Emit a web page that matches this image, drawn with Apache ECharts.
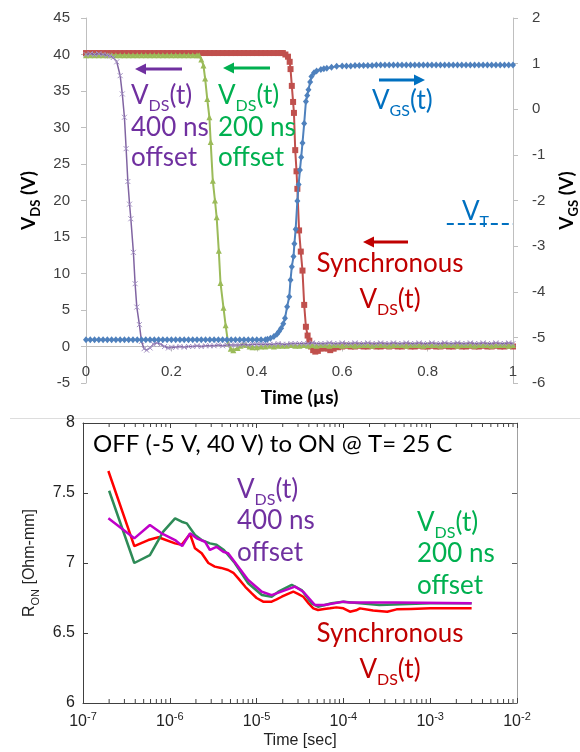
<!DOCTYPE html>
<html><head><meta charset="utf-8">
<script src="https://cdn.jsdelivr.net/npm/echarts@6/dist/echarts.min.js"></script>
<style>html,body{margin:0;padding:0;background:#fff}#c{width:580px;height:752px}</style>
</head><body><div id="c"></div><script>
// ---------- Top panel data: time (µs), V_DS (V) / V_GS (V) ----------
const vdsSync = [[0,40.2],[0.01,40.2],[0.02,40.2],[0.03,40.2],[0.04,40.2],[0.05,40.2],[0.06,40.2],[0.07,40.2],[0.08,40.2],[0.09,40.2],[0.10,40.2],[0.11,40.2],[0.12,40.2],[0.13,40.2],[0.14,40.2],[0.15,40.2],[0.16,40.2],[0.17,40.2],[0.18,40.2],[0.19,40.2],[0.20,40.2],[0.21,40.2],[0.22,40.2],[0.23,40.2],[0.24,40.2],[0.25,40.2],[0.26,40.2],[0.27,40.2],[0.28,40.2],[0.29,40.2],[0.30,40.2],[0.31,40.2],[0.32,40.2],[0.33,40.2],[0.34,40.2],[0.35,40.2],[0.36,40.2],[0.37,40.2],[0.38,40.2],[0.39,40.2],[0.40,40.2],[0.41,40.2],[0.42,40.2],[0.43,40.2],[0.44,40.2],[0.45,40.2],[0.456,40.2],[0.461,40.2],[0.467,40.0],[0.473,39.7],[0.477,39.0],[0.479,38.0],[0.482,35.7],[0.485,33.5],[0.487,32.0],[0.490,26.9],[0.493,24.0],[0.495,21.6],[0.499,15.9],[0.503,13.0],[0.507,10.4],[0.511,5.7],[0.515,2.7],[0.519,1.5],[0.523,0.8],[0.527,0.0],[0.532,-0.5],[0.537,-0.7],[0.543,-0.6],[0.55,-0.3],[0.557,-0.2],[0.565,-0.3],[0.572,-0.5],[0.58,-0.3],[0.59,-0.1],[0.60,0.0],[0.61,0.1],[0.62,0.0],[0.63,0.0],[0.64,0.1],[0.65,0.0],[0.66,0.0],[0.67,0.1],[0.68,0.0],[0.69,0.0],[0.70,0.1],[0.71,0.0],[0.72,0.1],[0.73,0.0],[0.74,0.0],[0.75,0.1],[0.76,0.0],[0.77,0.0],[0.78,0.1],[0.79,0.0],[0.80,0.0],[0.81,0.1],[0.82,0.0],[0.83,0.0],[0.84,0.1],[0.85,0.0],[0.86,0.0],[0.87,0.1],[0.88,0.0],[0.89,0.0],[0.90,0.1],[0.91,0.0],[0.92,0.0],[0.93,0.1],[0.94,0.0],[0.95,0.0],[0.96,0.1],[0.97,0.0],[0.98,0.0],[0.99,0.1],[1.00,0.0]];
const vds200 = [[0,39.9],[0.01,39.9],[0.02,39.9],[0.03,39.9],[0.04,39.9],[0.05,39.9],[0.06,39.9],[0.07,39.9],[0.08,39.9],[0.09,39.9],[0.10,39.9],[0.11,39.9],[0.12,39.9],[0.13,39.9],[0.14,39.9],[0.15,39.9],[0.16,39.9],[0.17,39.9],[0.18,39.9],[0.19,39.9],[0.20,39.9],[0.21,39.9],[0.22,39.9],[0.23,39.9],[0.24,39.9],[0.25,39.9],[0.26,39.9],[0.265,39.9],[0.270,39.3],[0.275,38.5],[0.279,36.7],[0.284,33.9],[0.289,31.4],[0.292,28.0],[0.297,22.7],[0.302,20.0],[0.306,17.7],[0.311,13.1],[0.315,8.7],[0.322,5.3],[0.327,2.9],[0.333,0.4],[0.339,-0.3],[0.345,-0.5],[0.355,-0.2],[0.362,0.1],[0.368,0.3],[0.375,0.2],[0.383,0.0],[0.39,-0.1],[0.40,-0.1],[0.41,0.0],[0.42,0.0],[0.43,0.1],[0.44,0.0],[0.45,0.1],[0.46,0.1],[0.47,0.1],[0.48,0.2],[0.49,0.1],[0.50,0.1],[0.51,0.2],[0.52,0.1],[0.53,0.2],[0.54,0.1],[0.55,0.2],[0.56,0.2],[0.57,0.1],[0.58,0.2],[0.59,0.2],[0.60,0.1],[0.61,0.2],[0.62,0.2],[0.63,0.1],[0.64,0.2],[0.65,0.2],[0.66,0.2],[0.67,0.1],[0.68,0.2],[0.69,0.2],[0.70,0.2],[0.71,0.1],[0.72,0.2],[0.73,0.2],[0.74,0.2],[0.75,0.1],[0.76,0.2],[0.77,0.2],[0.78,0.2],[0.79,0.1],[0.80,0.2],[0.81,0.2],[0.82,0.2],[0.83,0.1],[0.84,0.2],[0.85,0.2],[0.86,0.2],[0.87,0.1],[0.88,0.2],[0.89,0.2],[0.90,0.2],[0.91,0.1],[0.92,0.2],[0.93,0.2],[0.94,0.2],[0.95,0.1],[0.96,0.2],[0.97,0.2],[0.98,0.2],[0.99,0.1],[1.00,0.2]];
const vds400 = [[0,40.0],[0.01,40.1],[0.02,40.0],[0.03,40.1],[0.04,40.0],[0.05,39.9],[0.056,39.8],[0.064,39.6],[0.072,39.0],[0.080,37.1],[0.085,34.6],[0.090,31.4],[0.094,27.1],[0.098,22.6],[0.102,19.5],[0.105,17.5],[0.111,12.9],[0.115,8.6],[0.119,5.4],[0.125,3.0],[0.130,0.7],[0.136,-0.3],[0.142,-0.5],[0.150,-0.2],[0.158,0.3],[0.166,0.5],[0.175,0.3],[0.184,0.0],[0.193,-0.2],[0.20,-0.1],[0.21,-0.1],[0.22,0.0],[0.23,-0.1],[0.24,0.0],[0.25,0.0],[0.26,0.1],[0.27,0.0],[0.28,0.1],[0.29,0.1],[0.30,0.1],[0.31,0.2],[0.32,0.1],[0.33,0.2],[0.34,0.2],[0.35,0.2],[0.36,0.2],[0.37,0.3],[0.38,0.2],[0.39,0.3],[0.40,0.3],[0.41,0.3],[0.42,0.3],[0.43,0.3],[0.44,0.3],[0.45,0.4],[0.46,0.3],[0.47,0.3],[0.48,0.4],[0.49,0.4],[0.50,0.4],[0.51,0.4],[0.52,0.4],[0.53,0.5],[0.54,0.4],[0.55,0.4],[0.56,0.4],[0.57,0.5],[0.58,0.4],[0.59,0.4],[0.60,0.5],[0.61,0.4],[0.62,0.4],[0.63,0.5],[0.64,0.4],[0.65,0.4],[0.66,0.5],[0.67,0.4],[0.68,0.4],[0.69,0.5],[0.70,0.4],[0.71,0.4],[0.72,0.5],[0.73,0.4],[0.74,0.4],[0.75,0.5],[0.76,0.4],[0.77,0.4],[0.78,0.5],[0.79,0.4],[0.80,0.4],[0.81,0.5],[0.82,0.4],[0.83,0.4],[0.84,0.5],[0.85,0.4],[0.86,0.4],[0.87,0.5],[0.88,0.4],[0.89,0.4],[0.90,0.5],[0.91,0.4],[0.92,0.4],[0.93,0.5],[0.94,0.4],[0.95,0.4],[0.96,0.5],[0.97,0.4],[0.98,0.4],[0.99,0.5],[1.00,0.4]];
const vgs = [[0,-5.05],[0.01,-5.05],[0.02,-5.05],[0.03,-5.05],[0.04,-5.05],[0.05,-5.05],[0.06,-5.05],[0.07,-5.05],[0.08,-5.05],[0.09,-5.05],[0.10,-5.05],[0.11,-5.05],[0.12,-5.05],[0.13,-5.05],[0.14,-5.05],[0.15,-5.05],[0.16,-5.05],[0.17,-5.05],[0.18,-5.05],[0.19,-5.05],[0.20,-5.05],[0.21,-5.05],[0.22,-5.05],[0.23,-5.05],[0.24,-5.05],[0.25,-5.05],[0.26,-5.05],[0.27,-5.05],[0.28,-5.05],[0.29,-5.05],[0.30,-5.05],[0.31,-5.05],[0.32,-5.05],[0.33,-5.05],[0.34,-5.05],[0.35,-5.05],[0.36,-5.05],[0.37,-5.05],[0.38,-5.05],[0.39,-5.05],[0.40,-5.05],[0.41,-5.05],[0.42,-5.05],[0.425,-5.04],[0.432,-5.02],[0.44,-4.98],[0.447,-4.93],[0.452,-4.87],[0.457,-4.80],[0.462,-4.70],[0.466,-4.58],[0.471,-4.33],[0.476,-4.11],[0.479,-3.74],[0.482,-3.45],[0.486,-3.23],[0.488,-2.95],[0.491,-2.63],[0.495,-2.01],[0.498,-1.65],[0.501,-1.33],[0.504,-1.05],[0.507,-0.74],[0.511,-0.31],[0.515,0.17],[0.518,0.30],[0.521,0.43],[0.525,0.60],[0.528,0.72],[0.534,0.80],[0.540,0.84],[0.55,0.87],[0.557,0.89],[0.564,0.90],[0.575,0.92],[0.587,0.94],[0.60,0.95],[0.61,0.95],[0.62,0.95],[0.63,0.96],[0.64,0.96],[0.65,0.96],[0.66,0.96],[0.67,0.96],[0.68,0.97],[0.69,0.97],[0.70,0.97],[0.71,0.97],[0.72,0.97],[0.73,0.97],[0.74,0.97],[0.75,0.97],[0.76,0.97],[0.77,0.97],[0.78,0.97],[0.79,0.97],[0.80,0.97],[0.81,0.97],[0.82,0.97],[0.83,0.97],[0.84,0.97],[0.85,0.97],[0.86,0.97],[0.87,0.97],[0.88,0.97],[0.89,0.97],[0.90,0.97],[0.91,0.97],[0.92,0.97],[0.93,0.97],[0.94,0.97],[0.95,0.97],[0.96,0.97],[0.97,0.97],[0.98,0.97],[0.99,0.97],[1.00,0.97]];
const vT = -2.5;            // threshold voltage (right axis)
const vTStart = 0.845;      // start of V_T dashed marker (µs)

// ---------- Bottom panel data: time (s), R_ON (Ohm-mm) ----------
const ronSync = [[1.96e-7,7.657],[3.9e-7,7.121],[5.65e-7,7.164],[7.4e-7,7.184],[1.15e-6,7.14],[1.37e-6,7.13],[1.71e-6,7.207],[1.95e-6,7.105],[2.33e-6,7.07],[2.78e-6,7.0],[3.3e-6,6.974],[3.9e-6,6.965],[4.7e-6,6.95],[5.4e-6,6.93],[6.15e-6,6.89],[7.4e-6,6.83],[8.8e-6,6.783],[1.0e-5,6.75],[1.19e-5,6.724],[1.49e-5,6.724],[1.7e-5,6.74],[1.95e-5,6.759],[2.3e-5,6.78],[2.65e-5,6.795],[3.0e-5,6.78],[3.45e-5,6.759],[4.0e-5,6.71],[4.5e-5,6.676],[5.1e-5,6.664],[6.0e-5,6.672],[7.0e-5,6.676],[8.3e-5,6.683],[1.0e-4,6.676],[1.19e-4,6.652],[1.4e-4,6.662],[1.55e-4,6.676],[2.2e-4,6.66],[3.2e-4,6.652],[4.1e-4,6.669],[6e-4,6.672],[1e-3,6.676],[3e-3,6.676]];
const ron200 = [[2e-7,7.516],[3.9e-7,7.0],[5.9e-7,7.057],[8.4e-7,7.224],[1.15e-6,7.319],[1.37e-6,7.295],[1.57e-6,7.283],[1.95e-6,7.2],[2.33e-6,7.164],[2.9e-6,7.14],[3.45e-6,7.13],[4.2e-6,7.093],[5.6e-6,7.0],[8e-6,6.855],[1.15e-5,6.771],[1.49e-5,6.759],[1.78e-5,6.795],[2.54e-5,6.843],[3.3e-5,6.807],[4.3e-5,6.712],[5.1e-5,6.688],[7.3e-5,6.712],[1e-4,6.724],[2.6e-4,6.7],[1e-3,6.712],[3e-3,6.712]];
const ron400 = [[1.96e-7,7.319],[3.9e-7,7.176],[5.9e-7,7.271],[8.05e-7,7.212],[1.15e-6,7.164],[1.39e-6,7.121],[1.71e-6,7.212],[2.04e-6,7.176],[2.54e-6,7.152],[2.9e-6,7.093],[3.45e-6,7.116],[4.13e-6,7.08],[4.7e-6,7.07],[8e-6,6.879],[1.15e-5,6.795],[1.49e-5,6.771],[2.77e-5,6.831],[3.45e-5,6.795],[4.7e-5,6.7],[6.1e-5,6.7],[1e-4,6.724],[1.19e-4,6.717],[4.1e-4,6.717],[3e-3,6.712]];
const logDecades = [1e-7,1e-6,1e-5,1e-4,1e-3];
const logMults = [2,3,4,5,6,7,8,9];

const ANN = 'Lato';
const minorTicks = [];
logDecades.forEach(d => logMults.forEach(m => minorTicks.push([d*m, 6])));

function txt(x, y, str, color, size, align) {
  const sub = Math.round(size*0.62);
  return {type:'text', x:x, y:y, silent:true, z:100, style:{
    text:str, align:align||'left', verticalAlign:'middle', fill:color, fontSize:size, fontFamily:ANN,
    rich:{
      b:{fontSize:size, fontFamily:ANN, fill:color, verticalAlign:'bottom', padding:[0,0,Math.round(size*0.2),0]},
      s:{fontSize:sub, fontFamily:ANN, fill:color, verticalAlign:'bottom'}
    }}};
}
function arrow(x1, x2, y, color) {
  const dir = x2 > x1 ? 1 : -1, hl = 11, hw = 5.5, bx = x2 - dir*hl;
  return {type:'group', silent:true, z:100, children:[
    {type:'line', shape:{x1:x1,y1:y,x2:bx,y2:y}, style:{stroke:color,lineWidth:3}},
    {type:'polygon', shape:{points:[[x2,y],[bx,y-hw],[bx,y+hw]]}, style:{fill:color}}
  ]};
}
const PUR='#7030A0', GRN='#00B050', BLU='#0070C0', RED='#C00000';

const topLbl = {color:'#404040', fontSize:15, fontFamily:'Liberation Sans'};
const nameRichTop = {
  b:{fontSize:19, fontWeight:'bold', fontFamily:ANN, color:'#000', verticalAlign:'bottom', padding:[0,0,4,0]},
  s:{fontSize:13, fontWeight:'bold', fontFamily:ANN, color:'#000', verticalAlign:'bottom'}
};
const botLine = {color:'#404040', width:1};

const option = {
  animation:false,
  backgroundColor:'#fff',
  grid:[
    {left:86, top:18, width:427, height:365, containLabel:false, outerBoundsMode:'none'},
    {left:83, top:423, width:434, height:280, containLabel:false, outerBoundsMode:'none'}
  ],
  xAxis:[
    // labels + title of the top panel (placed at bottom edge, labels drawn above it)
    {gridIndex:0, type:'value', min:0, max:1, interval:0.2, position:'bottom',
     axisLine:{show:false, onZero:false}, axisTick:{show:false},
     axisLabel:Object.assign({inside:true, margin:4}, topLbl), splitLine:{show:false},
     name:'Time (µs)', nameLocation:'middle', nameGap:5,
     nameTextStyle:{fontSize:19, fontWeight:'bold', fontFamily:ANN, color:'#000'}},
    {gridIndex:1, type:'log', logBase:10, min:1e-7, max:1e-2, position:'bottom',
     axisLine:{show:true, onZero:false, lineStyle:botLine},
     axisTick:{show:true, inside:true, length:5, lineStyle:botLine},
     splitLine:{show:false}, minorTick:{show:false},
     axisLabel:{margin:8, formatter:v => '{b|10}{s|' + Math.round(Math.log10(v)) + '}',
       rich:{b:{fontSize:16, fontFamily:'Liberation Sans', color:'#222', verticalAlign:'bottom'},
             s:{fontSize:11, fontFamily:'Liberation Sans', color:'#222', verticalAlign:'bottom', padding:[0,0,8,0]}}},
     name:'Time [sec]', nameLocation:'middle', nameGap:30,
     nameTextStyle:{fontSize:16, fontFamily:'Liberation Sans', color:'#222'}},
    {gridIndex:1, type:'log', logBase:10, min:1e-7, max:1e-2, position:'top',
     axisLine:{show:true, onZero:false, lineStyle:botLine},
     axisTick:{show:true, inside:true, length:5, lineStyle:botLine},
     axisLabel:{show:false}, splitLine:{show:false}},
    // zero line of the top panel with its ticks
    {gridIndex:0, type:'value', min:0, max:1, interval:0.2, position:'top',
     axisLine:{show:true, onZero:true, onZeroAxisIndex:0, lineStyle:{color:'#BFBFBF'}},
     axisTick:{show:true, inside:true, length:5, lineStyle:{color:'#BFBFBF'}},
     axisLabel:{show:false}, splitLine:{show:false}}
  ],
  yAxis:[
    {gridIndex:0, type:'value', min:-5, max:45, interval:5, position:'left',
     axisLine:{show:true, onZero:false, lineStyle:{color:'#BFBFBF'}},
     axisTick:{show:true, inside:false, length:5, lineStyle:{color:'#BFBFBF'}},
     axisLabel:Object.assign({margin:16}, topLbl), splitLine:{show:false},
     name:'{b|V}{s|DS}{b| (V)}', nameLocation:'middle', nameRotate:90, nameGap:39,
     nameTextStyle:{rich:nameRichTop}},
    {gridIndex:0, type:'value', min:-6, max:2, interval:1, position:'right',
     axisLine:{show:true, onZero:false, lineStyle:{color:'#BFBFBF'}},
     axisTick:{show:true, inside:false, length:5, lineStyle:{color:'#BFBFBF'}},
     axisLabel:Object.assign({margin:19}, topLbl), splitLine:{show:false},
     name:'{b|V}{s|GS}{b| (V)}', nameLocation:'middle', nameRotate:90, nameGap:44,
     nameTextStyle:{rich:nameRichTop}},
    {gridIndex:1, type:'value', min:6, max:8, interval:0.5, position:'left',
     axisLine:{show:true, onZero:false, lineStyle:botLine},
     axisTick:{show:true, inside:true, length:5, lineStyle:botLine},
     axisLabel:{margin:8, fontSize:16, fontFamily:'Liberation Sans', color:'#222'}, splitLine:{show:false},
     name:'{b|R}{s|ON}{b| [Ohm-mm]}', nameLocation:'middle', nameRotate:90, nameGap:33,
     nameTextStyle:{rich:{
       b:{fontSize:16, fontFamily:'Liberation Sans', color:'#222', verticalAlign:'bottom', padding:[0,0,4,0]},
       s:{fontSize:11, fontFamily:'Liberation Sans', color:'#222', verticalAlign:'bottom'}}}},
    {gridIndex:1, type:'value', min:6, max:8, interval:0.5, position:'right',
     axisLine:{show:true, onZero:false, lineStyle:{color:'#A0A0A0'}},
     axisTick:{show:true, inside:true, length:5, lineStyle:{color:'#606060'}},
     axisLabel:{show:false}, splitLine:{show:false}}
  ],
  series:[
    {type:'line', xAxisIndex:0, yAxisIndex:0, data:vdsSync, symbol:'rect', symbolSize:6,
     lineStyle:{color:'#C0504D', width:2}, itemStyle:{color:'#C0504D'}, z:2},
    {type:'line', xAxisIndex:0, yAxisIndex:0, data:vds200, symbol:'triangle', symbolSize:6,
     lineStyle:{color:'#9BBB59', width:2}, itemStyle:{color:'#9BBB59'}, z:3},
    {type:'line', xAxisIndex:0, yAxisIndex:0, data:vds400, symbol:'path://M0,0L10,10M10,0L0,10', symbolSize:5,
     lineStyle:{color:'#8064A2', width:1.5}, itemStyle:{color:'#8064A2', borderColor:'#A593C4', borderWidth:1}, z:4},
    {type:'line', xAxisIndex:0, yAxisIndex:1, data:vgs, symbol:'diamond', symbolSize:[6,7],
     lineStyle:{color:'#4F81BD', width:2}, itemStyle:{color:'#4F81BD'}, z:5,
     markLine:{silent:true, symbol:['none','none'], label:{show:false},
       lineStyle:{color:BLU, type:[7,4], width:2},
       data:[[{coord:[vTStart, vT]},{coord:[1, vT]}]]}},
    {type:'line', xAxisIndex:1, yAxisIndex:2, data:ronSync, symbol:'none',
     lineStyle:{color:'#FF0000', width:2.5}, z:2},
    {type:'line', xAxisIndex:1, yAxisIndex:2, data:ron200, symbol:'none',
     lineStyle:{color:'#2E8B57', width:2.5}, z:3},
    {type:'line', xAxisIndex:1, yAxisIndex:2, data:ron400, symbol:'none',
     lineStyle:{color:'#C000C8', width:2.5}, z:4},
    {type:'custom', xAxisIndex:1, yAxisIndex:2, data:minorTicks, silent:true, clip:false,
     renderItem:(params, api) => {
       const v = api.value(0);
       const pb = api.coord([v, 6]), pt = api.coord([v, 8]);
       return {type:'group', children:[
         {type:'line', shape:{x1:pb[0],y1:pb[1],x2:pb[0],y2:pb[1]-4}, style:{stroke:'#404040',lineWidth:1}},
         {type:'line', shape:{x1:pt[0],y1:pt[1],x2:pt[0],y2:pt[1]+4}, style:{stroke:'#404040',lineWidth:1}}
       ]};
     }}
  ],
  graphic:[
    {type:'line', silent:true, shape:{x1:10,y1:418.5,x2:580,y2:418.5}, style:{stroke:'#DDDDDD', lineWidth:1}},
    // top panel annotations
    arrow(182, 135, 69, PUR),
    txt(131, 98, '{b|V}{s|DS}{b|(t)}', PUR, 26),
    txt(131, 130, '{b|400 ns}', PUR, 26),
    txt(131, 160, '{b|offset}', PUR, 26),
    arrow(270, 223, 68, GRN),
    txt(218, 98, '{b|V}{s|DS}{b|(t)}', GRN, 26),
    txt(218, 130, '{b|200 ns}', GRN, 26),
    txt(218, 160, '{b|offset}', GRN, 26),
    arrow(379, 425, 80, BLU),
    txt(372, 103, '{b|V}{s|GS}{b|(t)}', BLU, 26),
    txt(462, 214, '{b|V}{s|T}', BLU, 26),
    arrow(408, 363, 242, RED),
    txt(390, 266, '{b|Synchronous}', RED, 26, 'center'),
    txt(390, 302, '{b|V}{s|DS}{b|(t)}', RED, 26, 'center'),
    // bottom panel annotations
    txt(93, 447, '{b|OFF (-5 V, 40 V) to ON @ T= 25 C}', '#000', 24),
    txt(237, 492, '{b|V}{s|DS}{b|(t)}', PUR, 26),
    txt(237, 523, '{b|400 ns}', PUR, 26),
    txt(237, 555, '{b|offset}', PUR, 26),
    txt(417, 525, '{b|V}{s|DS}{b|(t)}', GRN, 26),
    txt(417, 556, '{b|200 ns}', GRN, 26),
    txt(417, 588, '{b|offset}', GRN, 26),
    txt(390, 636, '{b|Synchronous}', RED, 26, 'center'),
    txt(390, 672, '{b|V}{s|DS}{b|(t)}', RED, 26, 'center')
  ]
};
const chart = echarts.init(document.getElementById('c'), null, {renderer:'canvas'});
chart.setOption(option);
</script></body></html>
